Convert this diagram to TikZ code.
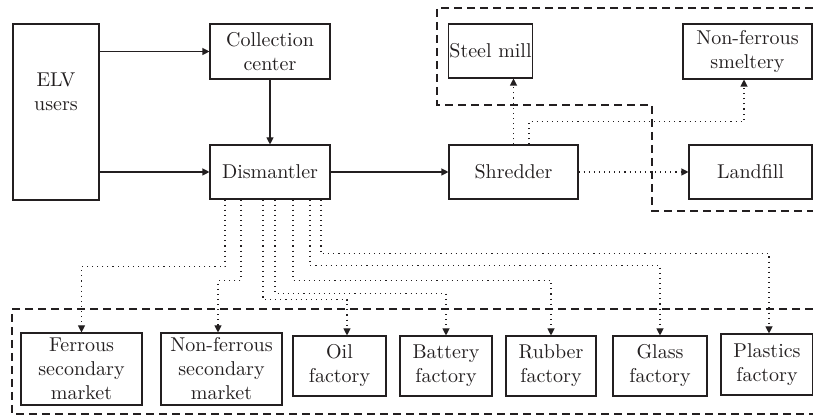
\documentclass[tikz,border=0pt]{standalone}
\usepackage{tikz}
\usetikzlibrary{arrows.meta, positioning, calc}
\definecolor{ink}{RGB}{35,31,32}
\tikzset{
  box/.style={
    draw=ink, line width=0.55pt, align=center, inner sep=0.5pt,
    text=ink, font=\normalsize
  },
  flow/.style={draw=ink, line width=0.55pt, -{Triangle[length=3.5pt,width=3.5pt]}},
  scrap/.style={flow, dotted},
  zone/.style={draw=ink, line width=0.55pt, dash pattern=on 4pt off 2.5pt},
}

\begin{document}
\begin{tikzpicture}[x=0.5pt, y=-0.5pt]
  \useasboundingbox (0,0) rectangle (813,415);

  %% ── upper chain ──
  \node[box, minimum width=43pt, minimum height=88pt, text depth=20pt]
                                                   (elv)   at (56,112)    {ELV\\users};
  \node[box, minimum width=60pt, minimum height=27.5pt] (col) at (270,51.5) {Collection\\center};
  \node[box, minimum width=60pt, minimum height=27pt]   (dis) at (270,172)  {Dismantler};
  \node[box, minimum width=64.5pt, minimum height=27pt] (shr) at (513.5,172) {Shredder};
  \node[box, minimum width=41.5pt, minimum height=27pt] (steel) at (490.5,51) {Steel mill};
  \node[box, minimum width=64.5pt, minimum height=27.5pt] (sme) at (747.5,51.5) {Non-ferrous\\smeltery};
  \node[box, minimum width=61.5pt, minimum height=27pt] (land) at (750.5,172) {Landfill};

  %% ── lower row ──
  \node[box, minimum width=60.5pt, minimum height=36pt] (fer) at (81.5,369)  {Ferrous\\secondary\\market};
  \node[box, minimum width=60.5pt, minimum height=36pt] (nfs) at (221.5,369) {Non-ferrous\\secondary\\market};
  \node[box, minimum width=46.5pt, minimum height=30pt] (oil) at (339.5,366) {Oil\\factory};
  \node[box, minimum width=46pt, minimum height=30pt]   (bat) at (446,366)   {Battery\\factory};
  \node[box, minimum width=45pt, minimum height=30pt]   (rub) at (551,366)   {Rubber\\factory};
  \node[box, minimum width=47pt, minimum height=30pt]   (gla) at (660,366)   {Glass\\factory};
  \node[box, minimum width=46pt, minimum height=30.5pt] (pla) at (767,364.5) {Plastics\\factory};

  %% ── dashed zones ──
  \draw[zone] (813,8) -- (437,8) -- (437,105) -- (652,105) -- (652,211) -- (813,211);
  \draw[zone] (813,309) -- (12,309) -- (12,414) -- (813,414);

  %% ── solid flow ──
  \draw[flow] (col.west -| elv.east) -- (col.west);
  \draw[flow] (dis.west -| elv.east) -- (dis.west);
  \draw[flow] (col) -- (dis);
  \draw[flow] (dis) -- (shr);

  %% ── shredder outputs ──
  \draw[scrap] (shr.north) -- (shr.north |- steel.south);
  \draw[scrap] ([xshift=7.75pt]shr.north) -- ++(0,-23) -| ([xshift=-1.75pt]sme.south);
  \draw[scrap] (shr) -- (land);

  %% ── dismantler outputs ──
  \draw[scrap] ([xshift=-22.5pt]dis.south) -- ++(0,67) -| (fer.north);
  \draw[scrap] ([xshift=-14.5pt]dis.south) -- ++(0,81) -| ([xshift=-1.75pt]nfs.north);
  \draw[scrap] ([xshift=-3.5pt]dis.south)  -- ++(0,100) -| ([xshift=3.75pt]oil.north);
  \draw[scrap] ([xshift=2.5pt]dis.south)   -- ++(0,94) -| (bat.north);
  \draw[scrap] ([xshift=11.5pt]dis.south)  -- ++(0,81) -| (rub.north);
  \draw[scrap] ([xshift=20pt]dis.south)    -- ++(0,66) -| (gla.north);
  \draw[scrap] ([xshift=25.5pt]dis.south)  -- ++(0,54) -| ([xshift=1pt]pla.north);
\end{tikzpicture}
\end{document}
